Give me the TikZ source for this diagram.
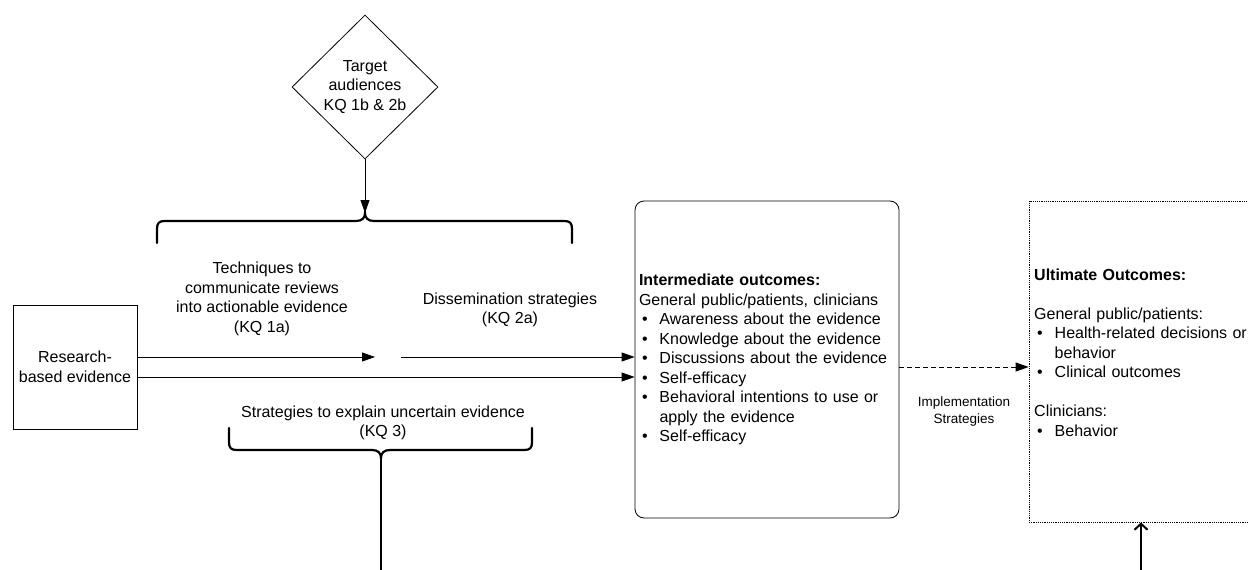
\documentclass[tikz,border=0pt]{standalone}
\usepackage{fontspec}
\setmainfont{Liberation Sans}
\usetikzlibrary{arrows.meta,positioning,calc,shapes.geometric}

\newcommand{\bitem}[1]{\par\hangindent=20.5pt\hangafter=1\noindent\makebox[20.5pt][l]{\hspace{3pt}\textbullet}#1}

\begin{document}
\begin{tikzpicture}[x=1pt,y=-1pt,
        txtsty/.style={
            font=\fontsize{16}{19.5}\selectfont,
            align=center, inner sep=0pt,
        },
        audsty/.style={
            txtsty, draw, diamond, aspect=1,
            line width=0.8pt,
            minimum width=146pt, minimum height=144pt,
        },
        srcsty/.style={
            txtsty, draw, rectangle,
            line width=0.8pt,
            minimum width=124pt, minimum height=124pt,
        },
        midsty/.style={
            txtsty, draw, rectangle, rounded corners=9pt,
            line width=0.8pt, align=left,
            text width=256pt, inner sep=4pt,
            minimum height=317pt,
        },
        ultsty/.style={
            draw, rectangle, line width=0.8pt,
            dash pattern=on 1.2pt off 1pt,
            minimum width=261pt, minimum height=321pt,
        },
        ulttxtsty/.style={txtsty, align=left, text width=215pt},
        implsty/.style={font=\fontsize{13.5}{17}\selectfont, align=center, inner sep=0pt},
        bracesty/.style={line width=2.2pt, line cap=round},
        arrowsty/.style={-{Triangle[length=13pt,width=9pt]}, line width=0.8pt},
        dashsty/.style={arrowsty, dash pattern=on 5pt off 3pt},
        upsty/.style={-{Straight Barb[length=6pt,width=13pt]}, line width=2pt},
    ]

    \useasboundingbox (0,0) rectangle (1248,570);

    \node[audsty] (aud) at (365,87) {Target\\audiences\\KQ 1b \& 2b};

    \coordinate (tbtip) at (365,213);
    \draw[bracesty] (157,243) -- (157,229) .. controls (157,223) and (159,221) .. (165,221)
        -- (356,221) .. controls (362,221) and (365,218) .. (tbtip)
        .. controls (365,218) and (368,221) .. (374,221)
        -- (564,221) .. controls (570,221) and (572,223) .. (572,229) -- (572,243);
    \draw[arrowsty] (aud) -- (tbtip);

    \node[txtsty] (tech) at (262,299) {Techniques to\\communicate reviews\\into actionable evidence\\(KQ 1a)};
    \node[txtsty] (diss) at (510,310) {Dissemination strategies\\(KQ 2a)};

    \node[srcsty] (src) at (75,367) {Research-\\based evidence};

    \node[midsty] (mid) at (767,359.5) {\textbf{Intermediate outcomes:}\par
        General public/patients, clinicians
        \bitem{Awareness about the evidence}
        \bitem{Knowledge about the evidence}
        \bitem{Discussions about the evidence}
        \bitem{Self-efficacy}
        \bitem{Behavioral intentions to use or\newline apply the evidence}
        \bitem{Self-efficacy}};

    \node[ultsty] (ult) at (1159.5,361.5) {};
    \node[ulttxtsty, anchor=north west] (ulttxt) at (1034,268.5) {\textbf{Ultimate Outcomes:}\par
        \vspace{19.5pt}General public/patients:
        \bitem{Health-related decisions or\newline behavior}
        \bitem{Clinical outcomes}\par
        \vspace{19.5pt}Clinicians:
        \bitem{Behavior}};

    \coordinate (gapl) at (375,357);
    \coordinate (gapr) at (401,357);
    \draw[arrowsty] ([yshift=10pt]src.east) -- (gapl);
    \draw[arrowsty] (gapr) -- (gapr -| mid.west);
    \draw[arrowsty] ([yshift=-10pt]src.east) -- ([yshift=-10pt]src.east -| mid.west);

    \draw[dashsty] ([yshift=-7.5pt]mid.east) -- node[implsty, below=29pt] (impl) {Implementation\\Strategies} ([yshift=-7.5pt]mid.east -| ult.west);

    \node[txtsty] (kq3) at (383,423) {Strategies to explain uncertain evidence\\(KQ 3)};

    \coordinate (bbtip) at (381,458);
    \coordinate (bbend) at (381,572);
    \draw[bracesty] (229,428) -- (229,442) .. controls (229,448) and (231,450) .. (237,450)
        -- (372,450) .. controls (378,450) and (381,453) .. (bbtip)
        .. controls (381,453) and (384,450) .. (390,450)
        -- (524,450) .. controls (530,450) and (532,448) .. (532,442) -- (532,428);
    \draw[bracesty, line cap=butt] (bbtip) -- (bbend);

    \coordinate (ultin) at (1141,572);
    \draw[upsty] (ultin) -- (ultin |- ult.south);

\end{tikzpicture}
\end{document}
